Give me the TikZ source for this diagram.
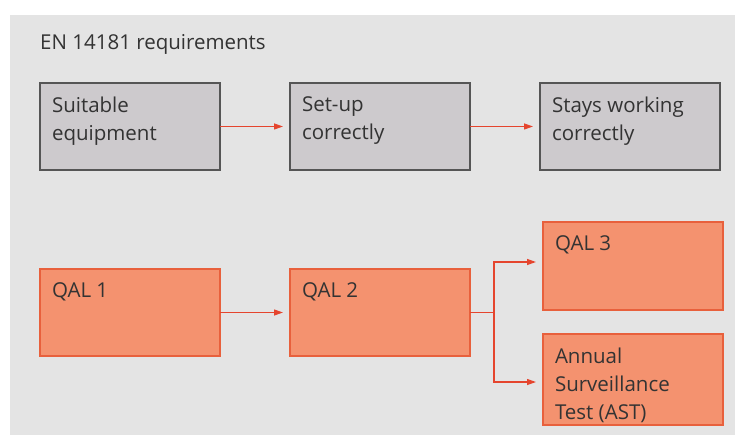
\documentclass[tikz,border=0pt]{standalone}
\usepackage{fontspec}
\setmainfont{Open Sans}
\usetikzlibrary{positioning,arrows.meta}

\definecolor{panelgray}{HTML}{E4E4E4}
\definecolor{boxgray}{HTML}{CDCACD}
\definecolor{edgegray}{HTML}{555555}
\definecolor{qalfill}{HTML}{F4926F}
\definecolor{qaledge}{HTML}{E8603C}
\definecolor{flowred}{HTML}{E5452E}
\definecolor{inkgray}{HTML}{333333}

\tikzset{
	reqbox/.style={draw=edgegray,fill=boxgray,line width=1.4pt,inner xsep=12pt,inner ysep=14pt,outer sep=0pt,anchor=north west,text=inkgray,font=\fontsize{20.5}{28}\selectfont},
	qalbox/.style={draw=qaledge,fill=qalfill,line width=1.2pt,inner xsep=12pt,inner ysep=14pt,outer sep=0pt,anchor=north west,text=inkgray,font=\fontsize{20.5}{28}\selectfont},
	flow/.style={draw=flowred,line width=1.2pt,-{Triangle[length=9pt,width=6pt]},shorten >=7pt}
}
\newcommand{\boxtext}[2]{\parbox[t][#1][t]{156pt}{#2}}

\begin{document}
\begin{tikzpicture}[x=1pt,y=-1pt]

	\useasboundingbox (0,0) rectangle (735,435);
	\fill[panelgray] (10,15) rectangle (735,435); %Hintergrund

	\node[anchor=base west,inner sep=0pt,text=inkgray,font=\fontsize{20.5}{24}\selectfont] (title) at (40,50) {EN 14181 requirements};

	% obere Reihe
	\node[reqbox] (suitable) at (40,83) {\boxtext{59pt}{Suitable\\equipment}};
	\node[reqbox,right=70pt of suitable.north east,anchor=north west] (setup) {\boxtext{59pt}{Set-up\\correctly}};
	\node[reqbox,right=70pt of setup.north east,anchor=north west] (stays) {\boxtext{59pt}{Stays working\\correctly}};

	\draw[flow] (suitable.east) -- (setup.west);
	\draw[flow] (setup.east) -- (stays.west);

	% untere Reihe
	\node[qalbox] (qal1) at (40,269) {\boxtext{59pt}{QAL 1}};
	\node[qalbox,right=70pt of qal1.north east,anchor=north west] (qal2) {\boxtext{59pt}{QAL 2}};
	\node[qalbox] (qal3) at (543,222) {\boxtext{60pt}{QAL 3}};
	\node[qalbox] (ast) at (543,334) {\boxtext{63pt}{Annual\\Surveillance\\Test (AST)}};

	\coordinate (fork) at (494,312.5);
	\coordinate (forkup) at (494,262);
	\coordinate (forkdown) at (494,382);

	\draw[flow] (qal1.east) -- (qal2.west);
	\draw[draw=flowred,line width=1.2pt] (qal2.east) -- (qal2.east -| fork);
	\draw[flow] (qal2.east -| fork) -- (forkup) -- (forkup -| qal3.west);
	\draw[flow] (qal2.east -| fork) -- (forkdown) -- (forkdown -| ast.west);

\end{tikzpicture}
\end{document}
